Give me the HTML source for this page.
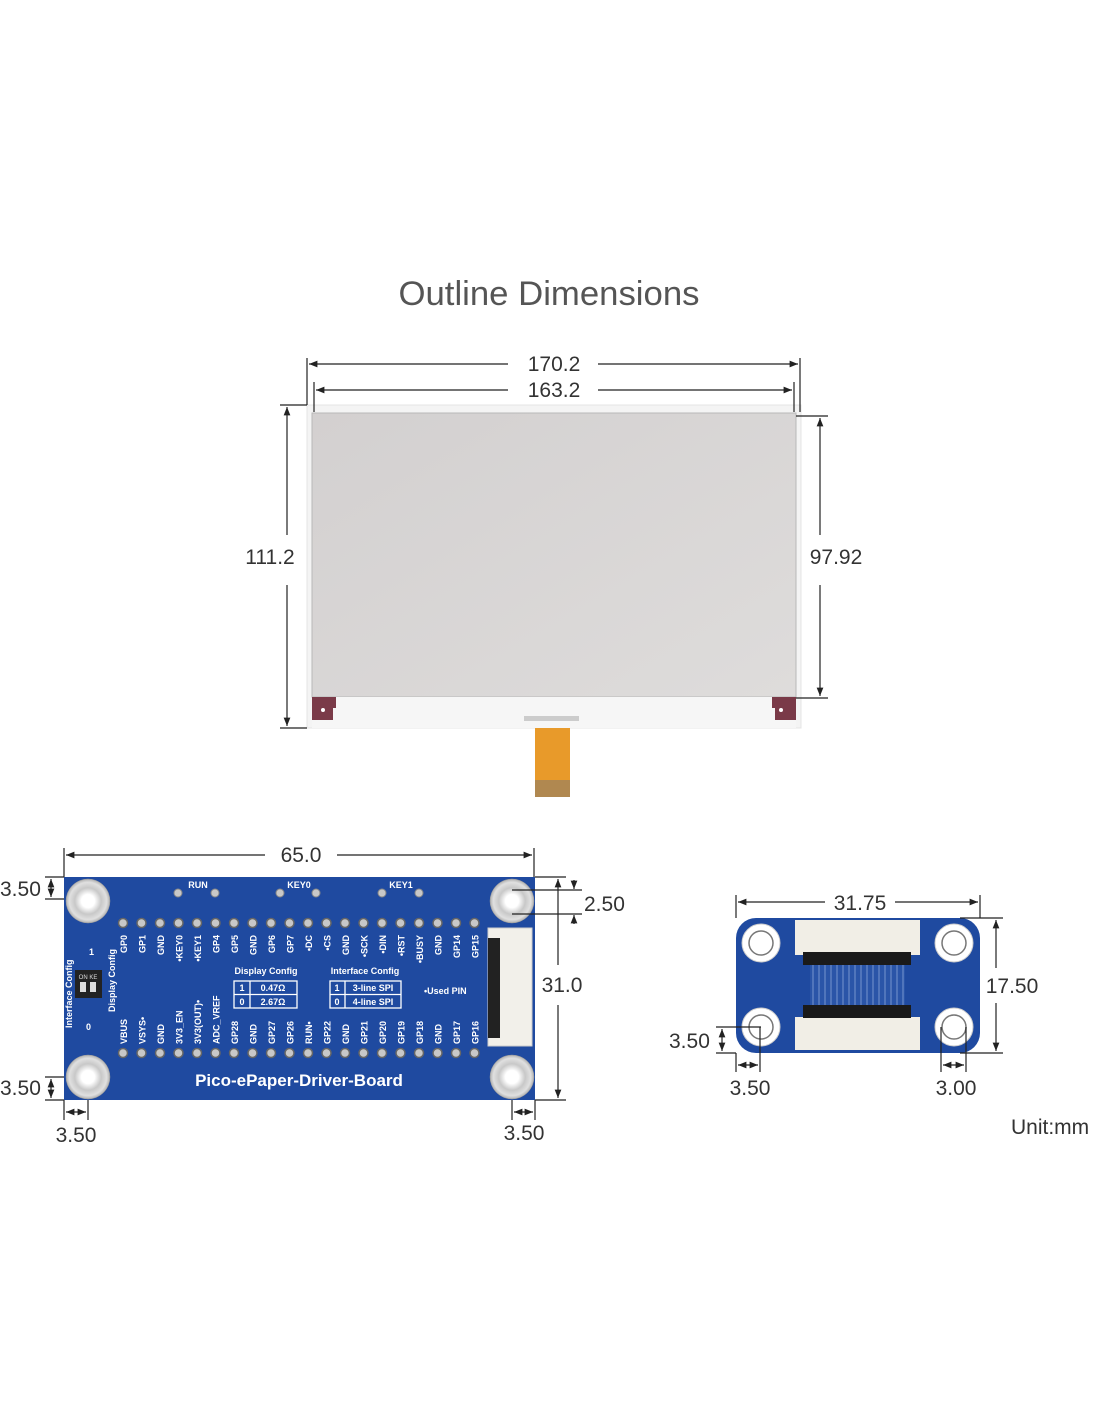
<!DOCTYPE html>
<html><head><meta charset="utf-8"><style>
html,body{margin:0;padding:0;background:#fff}
svg{display:block}
.d{font-family:"Liberation Sans",sans-serif;font-size:21px;fill:#333}
.l{stroke:#222;stroke-width:1.2;fill:none}
.p{font-family:"Liberation Sans",sans-serif;font-size:9px;font-weight:bold;fill:#fff}
</style></head><body>
<svg width="1100" height="1422" viewBox="0 0 1100 1422" xmlns="http://www.w3.org/2000/svg">
<defs>
<marker id="a" viewBox="0 0 10 10" refX="10" refY="5" markerWidth="7" markerHeight="7" orient="auto-start-reverse"><path d="M0,1 L10,5 L0,9z" fill="#222"/></marker>
<radialGradient id="h" cx="50%" cy="50%" r="50%"><stop offset="0.3" stop-color="#fff"/><stop offset="0.6" stop-color="#c8c8c8"/><stop offset="0.85" stop-color="#e0e0e0"/><stop offset="1" stop-color="#b0b0b0"/></radialGradient>
<linearGradient id="scr" x1="0" y1="0" x2="1" y2="1"><stop offset="0" stop-color="#d3d0d0"/><stop offset="1" stop-color="#dedcdb"/></linearGradient>
</defs>
<text x="549" y="305" text-anchor="middle" font-family="Liberation Sans,sans-serif" font-size="34" fill="#555" textLength="301" lengthAdjust="spacingAndGlyphs">Outline Dimensions</text>

<!-- e-paper panel -->
<rect x="307" y="405" width="494" height="323" fill="#f4f4f4" stroke="#e4e4e4"/>
<rect x="312" y="413" width="484" height="284" fill="url(#scr)" stroke="#b8b8b8"/>
<rect x="312" y="697" width="484" height="31" fill="#f6f6f6"/>
<path d="M312,697 H336 V708 H333 V720 H312z" fill="#7a3a48"/>
<circle cx="323" cy="710" r="2" fill="#fff"/>
<path d="M796,697 H772 V708 H775 V720 H796z" fill="#7a3a48"/>
<circle cx="781" cy="710" r="2" fill="#fff"/>
<rect x="524" y="716" width="55" height="5" fill="#ccc"/>
<rect x="535" y="728" width="35" height="52" fill="#e89a2a"/>
<rect x="535" y="780" width="35" height="17" fill="#b08850"/>

<!-- panel dims -->
<line class="l" x1="307" y1="358" x2="307" y2="405"/>
<line class="l" x1="800" y1="358" x2="800" y2="412"/>
<line class="l" x1="314" y1="382" x2="314" y2="412"/>
<line class="l" x1="794" y1="382" x2="794" y2="412"/>
<line class="l" x1="309" y1="364" x2="508" y2="364" marker-start="url(#a)"/>
<line class="l" x1="598" y1="364" x2="798" y2="364" marker-end="url(#a)"/>
<line class="l" x1="316" y1="390" x2="508" y2="390" marker-start="url(#a)"/>
<line class="l" x1="598" y1="390" x2="792" y2="390" marker-end="url(#a)"/>
<text class="d" x="554" y="371" text-anchor="middle">170.2</text>
<text class="d" x="554" y="397" text-anchor="middle">163.2</text>
<line class="l" x1="280" y1="405" x2="307" y2="405"/>
<line class="l" x1="280" y1="728" x2="307" y2="728"/>
<line class="l" x1="287" y1="407" x2="287" y2="535" marker-start="url(#a)"/>
<line class="l" x1="287" y1="585" x2="287" y2="726" marker-end="url(#a)"/>
<text class="d" x="270" y="564" text-anchor="middle">111.2</text>
<line class="l" x1="796" y1="416" x2="828" y2="416"/>
<line class="l" x1="796" y1="698" x2="828" y2="698"/>
<line class="l" x1="820" y1="418" x2="820" y2="535" marker-start="url(#a)"/>
<line class="l" x1="820" y1="585" x2="820" y2="696" marker-end="url(#a)"/>
<text class="d" x="836" y="564" text-anchor="middle">97.92</text>

<!-- driver board -->
<rect x="64" y="877" width="471" height="223" fill="#1f4aa0"/>
<g fill="url(#h)" stroke="#999" stroke-width="0.5">
<circle cx="88" cy="901" r="22"/><circle cx="512" cy="901" r="22"/>
<circle cx="88" cy="1077" r="22"/><circle cx="512" cy="1077" r="22"/>
</g>
<g fill="#fff"><circle cx="88" cy="901" r="6"/><circle cx="512" cy="901" r="6"/><circle cx="88" cy="1077" r="6"/><circle cx="512" cy="1077" r="6"/></g>
<g class="p" font-size="10">
<text x="198" y="888" text-anchor="middle">RUN</text>
<text x="299" y="888" text-anchor="middle">KEY0</text>
<text x="401" y="888" text-anchor="middle">KEY1</text>
</g>
<g fill="#c8c8c8" stroke="#888" stroke-width="1">
<circle cx="178" cy="893" r="4"/><circle cx="215" cy="893" r="4"/>
<circle cx="280" cy="893" r="4"/><circle cx="316" cy="893" r="4"/>
<circle cx="382" cy="893" r="4"/><circle cx="419" cy="893" r="4"/>
</g>
<g fill="#c8c8c8" stroke="#666" stroke-width="1.5">
<circle cx="123" cy="923" r="4.5"/><circle cx="141.5" cy="923" r="4.5"/><circle cx="160" cy="923" r="4.5"/><circle cx="178.5" cy="923" r="4.5"/><circle cx="197" cy="923" r="4.5"/><circle cx="215.5" cy="923" r="4.5"/><circle cx="234" cy="923" r="4.5"/><circle cx="252.5" cy="923" r="4.5"/><circle cx="271" cy="923" r="4.5"/><circle cx="289.5" cy="923" r="4.5"/><circle cx="308" cy="923" r="4.5"/><circle cx="326.5" cy="923" r="4.5"/><circle cx="345" cy="923" r="4.5"/><circle cx="363.5" cy="923" r="4.5"/><circle cx="382" cy="923" r="4.5"/><circle cx="400.5" cy="923" r="4.5"/><circle cx="419" cy="923" r="4.5"/><circle cx="437.5" cy="923" r="4.5"/><circle cx="456" cy="923" r="4.5"/><circle cx="474.5" cy="923" r="4.5"/>
<circle cx="123" cy="1053" r="4.5"/><circle cx="141.5" cy="1053" r="4.5"/><circle cx="160" cy="1053" r="4.5"/><circle cx="178.5" cy="1053" r="4.5"/><circle cx="197" cy="1053" r="4.5"/><circle cx="215.5" cy="1053" r="4.5"/><circle cx="234" cy="1053" r="4.5"/><circle cx="252.5" cy="1053" r="4.5"/><circle cx="271" cy="1053" r="4.5"/><circle cx="289.5" cy="1053" r="4.5"/><circle cx="308" cy="1053" r="4.5"/><circle cx="326.5" cy="1053" r="4.5"/><circle cx="345" cy="1053" r="4.5"/><circle cx="363.5" cy="1053" r="4.5"/><circle cx="382" cy="1053" r="4.5"/><circle cx="400.5" cy="1053" r="4.5"/><circle cx="419" cy="1053" r="4.5"/><circle cx="437.5" cy="1053" r="4.5"/><circle cx="456" cy="1053" r="4.5"/><circle cx="474.5" cy="1053" r="4.5"/>
</g>
<g class="p" text-anchor="end">
<text transform="translate(127,935) rotate(-90)">GP0</text>
<text transform="translate(145.5,935) rotate(-90)">GP1</text>
<text transform="translate(164,935) rotate(-90)">GND</text>
<text transform="translate(182.5,935) rotate(-90)">•KEY0</text>
<text transform="translate(201,935) rotate(-90)">•KEY1</text>
<text transform="translate(219.5,935) rotate(-90)">GP4</text>
<text transform="translate(238,935) rotate(-90)">GP5</text>
<text transform="translate(256.5,935) rotate(-90)">GND</text>
<text transform="translate(275,935) rotate(-90)">GP6</text>
<text transform="translate(293.5,935) rotate(-90)">GP7</text>
<text transform="translate(312,935) rotate(-90)">•DC</text>
<text transform="translate(330.5,935) rotate(-90)">•CS</text>
<text transform="translate(349,935) rotate(-90)">GND</text>
<text transform="translate(367.5,935) rotate(-90)">•SCK</text>
<text transform="translate(386,935) rotate(-90)">•DIN</text>
<text transform="translate(404.5,935) rotate(-90)">•RST</text>
<text transform="translate(423,935) rotate(-90)">•BUSY</text>
<text transform="translate(441.5,935) rotate(-90)">GND</text>
<text transform="translate(460,935) rotate(-90)">GP14</text>
<text transform="translate(478.5,935) rotate(-90)">GP15</text>
</g>
<g class="p" text-anchor="start">
<text transform="translate(127,1044) rotate(-90)">VBUS</text>
<text transform="translate(145.5,1044) rotate(-90)">VSYS•</text>
<text transform="translate(164,1044) rotate(-90)">GND</text>
<text transform="translate(182.5,1044) rotate(-90)">3V3_EN</text>
<text transform="translate(201,1044) rotate(-90)">3V3(OUT)•</text>
<text transform="translate(219.5,1044) rotate(-90)">ADC_VREF</text>
<text transform="translate(238,1044) rotate(-90)">GP28</text>
<text transform="translate(256.5,1044) rotate(-90)">GND</text>
<text transform="translate(275,1044) rotate(-90)">GP27</text>
<text transform="translate(293.5,1044) rotate(-90)">GP26</text>
<text transform="translate(312,1044) rotate(-90)">RUN•</text>
<text transform="translate(330.5,1044) rotate(-90)">GP22</text>
<text transform="translate(349,1044) rotate(-90)">GND</text>
<text transform="translate(367.5,1044) rotate(-90)">GP21</text>
<text transform="translate(386,1044) rotate(-90)">GP20</text>
<text transform="translate(404.5,1044) rotate(-90)">GP19</text>
<text transform="translate(423,1044) rotate(-90)">GP18</text>
<text transform="translate(441.5,1044) rotate(-90)">GND</text>
<text transform="translate(460,1044) rotate(-90)">GP17</text>
<text transform="translate(478.5,1044) rotate(-90)">GP16</text>
</g>
<!-- config tables -->
<g class="p">
<text x="266" y="974" text-anchor="middle">Display Config</text>
<text x="365" y="974" text-anchor="middle">Interface Config</text>
<text x="424" y="994">•Used PIN</text>
</g>
<g fill="none" stroke="#fff" stroke-width="1.3">
<rect x="234" y="981" width="63" height="27"/><line x1="234" y1="994.5" x2="297" y2="994.5"/><line x1="250" y1="981" x2="250" y2="1008"/>
<rect x="330" y="981" width="71" height="27"/><line x1="330" y1="994.5" x2="401" y2="994.5"/><line x1="345" y1="981" x2="345" y2="1008"/>
</g>
<g class="p" font-size="8.5">
<text x="242" y="991" text-anchor="middle">1</text><text x="273" y="991" text-anchor="middle">0.47Ω</text>
<text x="242" y="1005" text-anchor="middle">0</text><text x="273" y="1005" text-anchor="middle">2.67Ω</text>
<text x="337" y="991" text-anchor="middle">1</text><text x="373" y="991" text-anchor="middle">3-line SPI</text>
<text x="337" y="1005" text-anchor="middle">0</text><text x="373" y="1005" text-anchor="middle">4-line SPI</text>
</g>
<!-- DIP switch -->
<rect x="75" y="970" width="27" height="28" fill="#222"/>
<rect x="80" y="982" width="6" height="10" fill="#ddd"/><rect x="90" y="982" width="6" height="10" fill="#ddd"/>
<text x="88" y="979" font-family="Liberation Sans,sans-serif" font-size="6" fill="#ddd" text-anchor="middle">ON KE</text>
<g class="p" font-size="8">
<text transform="translate(72,1028) rotate(-90)">Interface Config</text>
<text transform="translate(115,1012) rotate(-90)">Display Config</text>
<text x="89" y="955">1</text><text x="86" y="1030">0</text>
</g>
<!-- FPC connector -->
<rect x="488" y="928" width="44" height="118" fill="#f2f0ea" stroke="#ccc"/>
<rect x="488" y="938" width="12" height="100" fill="#222"/>
<text x="299" y="1086" text-anchor="middle" font-family="Liberation Sans,sans-serif" font-weight="bold" font-size="17" fill="#fff">Pico-ePaper-Driver-Board</text>

<!-- board dims -->
<line class="l" x1="64" y1="848" x2="64" y2="877"/>
<line class="l" x1="534" y1="848" x2="534" y2="877"/>
<line class="l" x1="66" y1="855" x2="265" y2="855" marker-start="url(#a)"/>
<line class="l" x1="337" y1="855" x2="532" y2="855" marker-end="url(#a)"/>
<text class="d" x="301" y="862" text-anchor="middle">65.0</text>
<line class="l" x1="45" y1="877" x2="64" y2="877"/><line class="l" x1="45" y1="899" x2="64" y2="899"/>
<line class="l" x1="51" y1="879" x2="51" y2="897" marker-start="url(#a)" marker-end="url(#a)"/>
<text class="d" x="0" y="896">3.50</text>
<line class="l" x1="45" y1="1077" x2="64" y2="1077"/><line class="l" x1="45" y1="1100" x2="64" y2="1100"/>
<line class="l" x1="51" y1="1079" x2="51" y2="1098" marker-start="url(#a)" marker-end="url(#a)"/>
<text class="d" x="0" y="1095">3.50</text>
<line class="l" x1="64" y1="1100" x2="64" y2="1120"/><line class="l" x1="88" y1="1100" x2="88" y2="1120"/>
<line class="l" x1="66" y1="1112" x2="86" y2="1112" marker-start="url(#a)" marker-end="url(#a)"/>
<text class="d" x="76" y="1142" text-anchor="middle">3.50</text>
<line class="l" x1="512" y1="1100" x2="512" y2="1120"/><line class="l" x1="535" y1="1100" x2="535" y2="1120"/>
<line class="l" x1="514" y1="1112" x2="533" y2="1112" marker-start="url(#a)" marker-end="url(#a)"/>
<text class="d" x="524" y="1140" text-anchor="middle">3.50</text>
<line class="l" x1="535" y1="877" x2="566" y2="877"/><line class="l" x1="535" y1="1100" x2="566" y2="1100"/>
<line class="l" x1="558" y1="879" x2="558" y2="965" marker-start="url(#a)"/>
<line class="l" x1="558" y1="1005" x2="558" y2="1098" marker-end="url(#a)"/>
<text class="d" x="562" y="992" text-anchor="middle">31.0</text>
<line class="l" x1="512" y1="890" x2="582" y2="890"/><line class="l" x1="512" y1="914" x2="582" y2="914"/>
<line class="l" x1="574" y1="880" x2="574" y2="889" marker-end="url(#a)"/>
<line class="l" x1="574" y1="924" x2="574" y2="915" marker-end="url(#a)"/>
<text class="d" x="584" y="911">2.50</text>

<!-- small adapter board -->
<rect x="736" y="918" width="244" height="135" rx="20" fill="#1f4aa0"/>
<g fill="#fff" stroke="#ccc"><circle cx="761" cy="943" r="19"/><circle cx="954" cy="943" r="19"/><circle cx="761" cy="1027" r="19"/><circle cx="954" cy="1027" r="19"/></g>
<g fill="none" stroke="#777" stroke-width="1.5"><circle cx="761" cy="943" r="12"/><circle cx="954" cy="943" r="12"/><circle cx="761" cy="1027" r="12"/><circle cx="954" cy="1027" r="12"/></g>
<rect x="795" y="920" width="125" height="35" fill="#f1eee6"/>
<rect x="803" y="952" width="108" height="13" fill="#1a1a1a"/>
<rect x="795" y="1017" width="125" height="33" fill="#f1eee6"/>
<rect x="803" y="1005" width="108" height="13" fill="#1a1a1a"/>
<rect x="810" y="965" width="95" height="40" fill="#2a55a8"/>
<g stroke="#8aa6d8" stroke-width="0.8">
<line x1="813" y1="965" x2="813" y2="1005"/><line x1="819" y1="965" x2="819" y2="1005"/><line x1="825" y1="965" x2="825" y2="1005"/><line x1="831" y1="965" x2="831" y2="1005"/><line x1="837" y1="965" x2="837" y2="1005"/><line x1="843" y1="965" x2="843" y2="1005"/><line x1="849" y1="965" x2="849" y2="1005"/><line x1="855" y1="965" x2="855" y2="1005"/><line x1="861" y1="965" x2="861" y2="1005"/><line x1="867" y1="965" x2="867" y2="1005"/><line x1="873" y1="965" x2="873" y2="1005"/><line x1="879" y1="965" x2="879" y2="1005"/><line x1="885" y1="965" x2="885" y2="1005"/><line x1="891" y1="965" x2="891" y2="1005"/><line x1="897" y1="965" x2="897" y2="1005"/><line x1="903" y1="965" x2="903" y2="1005"/>
</g>
<!-- small dims -->
<line class="l" x1="736" y1="895" x2="736" y2="918"/><line class="l" x1="980" y1="895" x2="980" y2="918"/>
<line class="l" x1="738" y1="902" x2="825" y2="902" marker-start="url(#a)"/>
<line class="l" x1="895" y1="902" x2="978" y2="902" marker-end="url(#a)"/>
<text class="d" x="860" y="910" text-anchor="middle">31.75</text>
<line class="l" x1="960" y1="918" x2="1003" y2="918"/><line class="l" x1="960" y1="1053" x2="1003" y2="1053"/>
<line class="l" x1="996" y1="920" x2="996" y2="968" marker-start="url(#a)"/>
<line class="l" x1="996" y1="1003" x2="996" y2="1051" marker-end="url(#a)"/>
<text class="d" x="1012" y="993" text-anchor="middle">17.50</text>
<line class="l" x1="716" y1="1027" x2="761" y2="1027"/><line class="l" x1="716" y1="1053" x2="736" y2="1053"/>
<line class="l" x1="722" y1="1029" x2="722" y2="1051" marker-start="url(#a)" marker-end="url(#a)"/>
<text class="d" x="669" y="1048">3.50</text>
<line class="l" x1="736" y1="1053" x2="736" y2="1072"/><line class="l" x1="760" y1="1027" x2="760" y2="1072"/>
<line class="l" x1="738" y1="1065" x2="758" y2="1065" marker-start="url(#a)" marker-end="url(#a)"/>
<text class="d" x="750" y="1095" text-anchor="middle">3.50</text>
<line class="l" x1="941" y1="1027" x2="941" y2="1072"/><line class="l" x1="966" y1="1027" x2="966" y2="1072"/>
<line class="l" x1="943" y1="1065" x2="964" y2="1065" marker-start="url(#a)" marker-end="url(#a)"/>
<text class="d" x="956" y="1095" text-anchor="middle">3.00</text>
<text class="d" x="1011" y="1134">Unit:mm</text>
</svg>
</body></html>
